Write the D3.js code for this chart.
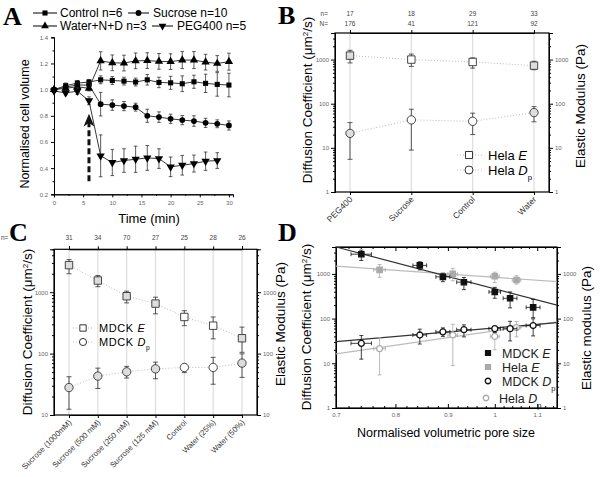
<!DOCTYPE html>
<html>
<head>
<meta charset="utf-8">
<script src="https://d3js.org/d3.v7.min.js"></script>
<style>
body{margin:0;background:#fff}
svg{display:block;font-family:Arial,"Liberation Sans",sans-serif}
.tk text{font-size:6px;fill:#666}
.tk path,.tk line{stroke:#000}
</style>
</head>
<body>
<svg id="fig" width="600" height="477"></svg>
<script>
// --- A: volumen celular normalizado
const tiempo = [0,2,4,6,8,10,12,14,16,18,20,22,24,26,28,30]
const controlV = [1.0,1.03,1.05,1.058,1.075,1.07,1.065,1.058,1.075,1.055,1.052,1.045,1.06,1.048,1.04,1.035]
const controlErr = [0.01,0.02,0.02,0.02,0.03,0.03,0.03,0.03,0.04,0.04,0.05,0.06,0.05,0.07,0.09,0.09]
const sucrosaV = [1.0,1.02,1.035,1.035,0.889,0.882,0.874,0.866,0.80,0.79,0.777,0.767,0.76,0.746,0.739,0.726]
const sucrosaErr = [0.01,0.015,0.02,0.02,0.09,0.04,0.035,0.03,0.05,0.04,0.035,0.035,0.04,0.035,0.03,0.035]
const aguaV = [1.0,1.01,1.022,1.01,1.22,1.205,1.203,1.22,1.222,1.216,1.214,1.226,1.226,1.21,1.2,1.214]
const aguaErr = [0.01,0.015,0.02,0.02,0.07,0.06,0.06,0.06,0.06,0.06,0.06,0.065,0.065,0.06,0.06,0.065]
const pegV = [0.99,0.975,0.988,0.915,0.494,0.443,0.458,0.468,0.478,0.473,0.41,0.422,0.435,0.453,0.458]
const pegErr = [0.01,0.015,0.025,0.03,0.16,0.10,0.09,0.10,0.095,0.075,0.075,0.075,0.065,0.07,0.06]
const ticksA_x = [0,5,10,15,20,25,30]
const ticksA_y = [0.2,0.4,0.6,0.8,1.0,1.2,1.4]

// --- B: Hela
const catsB = ["PEG400","Sucrose","Control","Water"]
const nB = [17,18,29,33]
const NB = [176,41,121,92]
const helaE = [1230,1000,883,730]
const helaE_lo = [840,700,640,590]
const helaE_hi = [1620,1330,1090,915]
const helaD = [21.3,43,40,63]
const helaD_lo = [5.5,8.9,20,39]
const helaD_hi = [37.4,75,61,86]

// --- C: MDCK
const catsC = ["Sucrose (1000mM)","Sucrose (500 mM)","Sucrose (250 mM)","Sucrose (125 mM)","Control","Water (25%)","Water (50%)"]
const nC = [31,34,70,27,25,28,26]
const mdckE = [2760,1550,860,653,395,285,178]
const mdckE_lo = [2000,1230,670,445,285,174,105]
const mdckE_hi = [3400,1870,1040,830,500,395,270]
const mdckD = [28,43,50.5,56.5,59.5,59.5,70]
const mdckD_lo = [12.4,27,40,39,49,31.7,41]
const mdckD_hi = [42,58,62,72.5,67,87,99]

// --- D: frente al tamaño de poro
const poroMdck = [0.741,0.845,0.89,0.933,1.0,1.035,1.09]
const poroMdckErr = [0.017,0.013,0.014,0.015,0.013,0.016,0.017]
const poroHela = [0.772,0.91,1.0,1.05]
const poroHelaErr = [0.01,0.01,0.01,0.01]
const ajusteMdckE = [[0.7,4000],[1.15,200]]
const ajusteHelaE = [[0.7,1490],[1.15,670]]
const ajusteMdckD = [[0.7,30.7],[1.15,81]]
const ajusteHelaD = [[0.7,16.3],[1.15,85]]
const ticksD_x = [0.7,0.8,0.9,1,1.1]
const ticksLog = [1,10,100,1000]

const svg = d3.select("#fig")
const gris = "#aaa"

function menores(a, b){
	let r = []
	for(let dec = 1; dec < 10000; dec *= 10)
		for(let m = 2; m < 10; m++)
			if(m*dec > a && m*dec < b) r.push(m*dec)
	return r
}

function texto(g, x, y, partes, size, opts){
	opts = opts || {}
	let t = g.append("text").attr("x", x).attr("y", y).attr("font-size", size)
	if(opts.rot) t.attr("transform", "rotate(" + opts.rot + "," + x + "," + y + ")")
	if(opts.anchor) t.attr("text-anchor", opts.anchor)
	if(opts.ls) t.attr("letter-spacing", opts.ls)
	partes.forEach(p => {
		let s = t.append("tspan").text(p[0])
		if(p[1] == "i") s.attr("font-style", "italic")
		if(p[1] == "sub") s.attr("font-size", size*0.6).attr("baseline-shift", "sub")
		if(p[1] == "sup") s.attr("font-size", size*0.6).attr("baseline-shift", "super")
	})
	return t
}

function simbolo(tipo, size){
	return d3.symbol().type(tipo).size(size)()
}

function ejeY(g, y, x0, lado, dom){
	let ax = lado == "left" ? d3.axisLeft(y) : d3.axisRight(y)
	g.append("g").attr("class","tk").attr("transform","translate(" + x0 + ",0)")
		.call(ax.tickValues(ticksLog.filter(v => v >= dom[0] && v <= dom[1])).tickFormat(d3.format("d")).tickSize(4).tickPadding(2))
	let ax2 = lado == "left" ? d3.axisLeft(y) : d3.axisRight(y)
	g.append("g").attr("class","tk").attr("transform","translate(" + x0 + ",0)")
		.call(ax2.tickValues(menores(dom[0], dom[1])).tickFormat("").tickSize(2))
}

function barraV(g, x, lo, hi, color, w){
	g.append("line").attr("x1",x).attr("x2",x).attr("y1",lo).attr("y2",hi).attr("stroke",color).attr("stroke-width",0.8)
	g.append("line").attr("x1",x-w).attr("x2",x+w).attr("y1",lo).attr("y2",lo).attr("stroke",color).attr("stroke-width",0.8)
	g.append("line").attr("x1",x-w).attr("x2",x+w).attr("y1",hi).attr("y2",hi).attr("stroke",color).attr("stroke-width",0.8)
}

function marco(g, x0, x1, y0, y1){
	g.append("rect").attr("x",x0).attr("y",y0).attr("width",x1-x0).attr("height",y1-y0)
		.attr("fill","none").attr("stroke","#000").attr("stroke-width",1.2)
}

// ================= A =================
{
	const g = svg.append("g")
	const x = d3.scaleLinear().domain([0, 30.7]).range([54, 233])
	const y = d3.scaleLinear().domain([0.2, 1.4]).range([194.3, 37.3])

	g.append("g").attr("class","tk").attr("transform","translate(0,194.3)")
		.call(d3.axisBottom(x).tickValues(ticksA_x).tickSize(3).tickPadding(3))
	g.append("g").attr("class","tk").attr("transform","translate(0,194.3)")
		.call(d3.axisBottom(x).tickValues(d3.range(2.5, 30, 5)).tickFormat("").tickSize(1.5))
	g.append("g").attr("class","tk").attr("transform","translate(54,0)")
		.call(d3.axisLeft(y).tickValues(ticksA_y).tickFormat(d3.format(".1f")).tickSize(3).tickPadding(3))
	g.append("g").attr("class","tk").attr("transform","translate(54,0)")
		.call(d3.axisLeft(y).tickValues(d3.range(0.3, 1.4, 0.2)).tickFormat("").tickSize(1.5))

	const series = [
		{v: controlV, e: controlErr, s: d3.symbolSquare, sz: 26, rot: 0},
		{v: sucrosaV, e: sucrosaErr, s: d3.symbolCircle, sz: 26, rot: 0},
		{v: aguaV, e: aguaErr, s: d3.symbolTriangle, sz: 30, rot: 0},
		{v: pegV, e: pegErr, s: d3.symbolTriangle, sz: 30, rot: 180}
	]
	series.forEach(se => {
		const pts = se.v.map((v, i) => [tiempo[i], v])
		g.append("path").attr("d", d3.line().x(d => x(d[0])).y(d => y(d[1]))(pts))
			.attr("fill","none").attr("stroke","#222").attr("stroke-width",0.9)
		pts.forEach((p, i) => barraV(g, x(p[0]), y(p[1]-se.e[i]), y(p[1]+se.e[i]), "#333", 1.8))
		g.selectAll(null).data(pts).enter().append("path")
			.attr("d", simbolo(se.s, se.sz))
			.attr("transform", d => "translate(" + x(d[0]) + "," + y(d[1]) + ") rotate(" + se.rot + ")")
			.attr("fill","#000")
	})

	// flecha discontinua
	const xf = x(6)
	g.append("line").attr("x1",xf).attr("x2",xf).attr("y1",y(0.3)).attr("y2",y(0.76))
		.attr("stroke","#111").attr("stroke-width",3).attr("stroke-dasharray","6,3")
	g.append("path").attr("d","M" + xf + "," + y(0.815) + " L" + (xf-5.5) + "," + (y(0.815)+13) + " L" + xf + "," + (y(0.815)+9) + " L" + (xf+5.5) + "," + (y(0.815)+13) + "Z")
		.attr("fill","#111")

	texto(g, 29, 124, [["Normalised cell volume"]], 12.5, {rot: -90, anchor: "middle"})
	texto(g, 149, 223, [["Time (min)"]], 13, {anchor: "middle"})

	// leyenda
	const ley = [
		{x0: 33, x1: 57, tx: 60, y: 13, s: d3.symbolSquare, rot: 0, t: "Control n=6"},
		{x0: 128, x1: 149, tx: 153, y: 13, s: d3.symbolCircle, rot: 0, t: "Sucrose n=10"},
		{x0: 33, x1: 57, tx: 60, y: 26, s: d3.symbolTriangle, rot: 0, t: "Water+N+D n=3"},
		{x0: 152, x1: 173, tx: 177, y: 26, s: d3.symbolTriangle, rot: 180, t: "PEG400 n=5"}
	]
	ley.forEach(l => {
		g.append("line").attr("x1",l.x0).attr("x2",l.x1).attr("y1",l.y).attr("y2",l.y).attr("stroke","#000").attr("stroke-width",1)
		g.append("path").attr("d", simbolo(l.s, 26)).attr("transform","translate(" + (l.x0+l.x1)/2 + "," + l.y + ") rotate(" + l.rot + ")")
		texto(g, l.tx, l.y + 4.3, [[l.t]], 12)
	})
	texto(g, 3, 25, [["A"]], 26).attr("font-family","'Liberation Serif',serif").attr("font-weight","bold")
}

// ================= B =================
{
	const g = svg.append("g")
	const x = d3.scalePoint().domain(catsB).range([350, 534])
	const y = d3.scaleLog().domain([1, 4000]).range([192, 33])

	catsB.forEach(c => g.append("line").attr("x1",x(c)).attr("x2",x(c)).attr("y1",33).attr("y2",192).attr("stroke","#ddd").attr("stroke-width",1.2))

	ejeY(g, y, 335, "left", [1, 4000])
	ejeY(g, y, 549, "right", [1, 4000])
	g.append("g").attr("class","tk").attr("transform","translate(0,192)").call(d3.axisBottom(x).tickSize(3).tickFormat(""))
	g.append("g").attr("class","tk").attr("transform","translate(0,33)").call(d3.axisTop(x).tickSize(3).tickFormat(""))
	marco(g, 335, 549, 33, 192)

	catsB.forEach(c => texto(g, x(c)+3, 200, [[c]], 8.5, {rot: -45, anchor: "end"}).attr("fill","#333"))
	texto(g, 328, 16, [["n="]], 6.5, {anchor: "end"}).attr("fill","#444")
	texto(g, 328, 26, [["N="]], 6.5, {anchor: "end"}).attr("fill","#444")
	catsB.forEach((c, i) => {
		texto(g, x(c), 16, [[String(nB[i])]], 6.5, {anchor: "middle"}).attr("fill","#444")
		texto(g, x(c), 26, [[String(NB[i])]], 6.5, {anchor: "middle"}).attr("fill","#444")
	})

	const ser = [
		{v: helaE, lo: helaE_lo, hi: helaE_hi, s: d3.symbolSquare},
		{v: helaD, lo: helaD_lo, hi: helaD_hi, s: d3.symbolCircle}
	]
	ser.forEach(se => {
		g.append("path").attr("d", d3.line().x((d,i) => x(catsB[i])).y(d => y(d))(se.v))
			.attr("fill","none").attr("stroke","#bbb").attr("stroke-dasharray","1,2").attr("stroke-width",1)
		se.v.forEach((v, i) => barraV(g, x(catsB[i]), y(se.lo[i]), y(se.hi[i]), "#333", 2.5))
		se.v.forEach((v, i) => g.append("path").attr("d", simbolo(se.s, 55))
			.attr("transform","translate(" + x(catsB[i]) + "," + y(v) + ")")
			.attr("fill", (i == 0 || i == 3) ? "#ddd" : "#fff").attr("stroke","#333").attr("stroke-width",0.9))
	})

	// leyenda
	;[[155, d3.symbolSquare, [["Hela "],["E","i"]]], [170, d3.symbolCircle, [["Hela "],["D","i"],["p","sub"]]]].forEach(l => {
		g.append("line").attr("x1",457).attr("x2",482).attr("y1",l[0]).attr("y2",l[0]).attr("stroke","#bbb").attr("stroke-dasharray","1,2")
		g.append("path").attr("d", simbolo(l[1], 50)).attr("transform","translate(469," + l[0] + ")").attr("fill","#fff").attr("stroke","#333")
		texto(g, 488, l[0]+4.5, l[2], 13)
	})

	texto(g, 312, 100, [["Diffusion Coefficient ("],["\u03bcm"],["2","sup"],["/s)"]], 13.5, {rot: -90, anchor: "middle"})
	texto(g, 585, 106, [["Elastic Modulus (Pa)"]], 13.5, {rot: -90, anchor: "middle"})
	texto(g, 278, 24, [["B"]], 26).attr("font-family","'Liberation Serif',serif").attr("font-weight","bold")
}

// ================= C =================
{
	const g = svg.append("g")
	const x = d3.scalePoint().domain(catsC).range([69, 242])
	const y = d3.scaleLog().domain([10, 5000]).range([415, 249.3])

	catsC.forEach(c => g.append("line").attr("x1",x(c)).attr("x2",x(c)).attr("y1",249.3).attr("y2",415).attr("stroke","#ddd").attr("stroke-width",1.2))

	ejeY(g, y, 54, "left", [10, 5000])
	ejeY(g, y, 257, "right", [10, 5000])
	g.append("g").attr("class","tk").attr("transform","translate(0,415)").call(d3.axisBottom(x).tickSize(3).tickFormat(""))
	g.append("g").attr("class","tk").attr("transform","translate(0,249.3)").call(d3.axisTop(x).tickSize(3).tickFormat(""))
	marco(g, 54, 257, 249.3, 415)

	catsC.forEach(c => texto(g, x(c)+3, 423, [[c]], 7.8, {rot: -45, anchor: "end"}).attr("fill","#333"))
	texto(g, 1, 240, [["n="]], 6.5).attr("fill","#444")
	catsC.forEach((c, i) => texto(g, x(c), 240, [[String(nC[i])]], 6.5, {anchor: "middle"}).attr("fill","#444"))

	const ser = [
		{v: mdckE, lo: mdckE_lo, hi: mdckE_hi, s: d3.symbolSquare},
		{v: mdckD, lo: mdckD_lo, hi: mdckD_hi, s: d3.symbolCircle}
	]
	ser.forEach(se => {
		g.append("path").attr("d", d3.line().x((d,i) => x(catsC[i])).y(d => y(d))(se.v))
			.attr("fill","none").attr("stroke","#bbb").attr("stroke-dasharray","1,2").attr("stroke-width",1)
		se.v.forEach((v, i) => barraV(g, x(catsC[i]), y(se.lo[i]), y(se.hi[i]), "#333", 2.5))
		se.v.forEach((v, i) => g.append("path").attr("d", simbolo(se.s, 55))
			.attr("transform","translate(" + x(catsC[i]) + "," + y(v) + ")")
			.attr("fill", (i == 4 || i == 5) ? "#fff" : "#ddd").attr("stroke","#333").attr("stroke-width",0.9))
	})

	;[[328, d3.symbolSquare, [["MDCK "],["E","i"]]], [342, d3.symbolCircle, [["MDCK "],["D","i"],["p","sub"]]]].forEach(l => {
		g.append("line").attr("x1",73).attr("x2",93).attr("y1",l[0]).attr("y2",l[0]).attr("stroke","#bbb").attr("stroke-dasharray","1,2")
		g.append("path").attr("d", simbolo(l[1], 40)).attr("transform","translate(83," + l[0] + ")").attr("fill","#fff").attr("stroke","#333")
		texto(g, 99, l[0]+4, l[2], 11, {ls: 0.6})
	})

	texto(g, 32, 332, [["Diffusion Coefficient ("],["\u03bcm"],["2","sup"],["/s)"]], 13.5, {rot: -90, anchor: "middle"})
	texto(g, 285, 324, [["Elastic Modulus (Pa)"]], 13.5, {rot: -90, anchor: "middle"})
	texto(g, 9, 241, [["C"]], 26).attr("font-family","'Liberation Serif',serif").attr("font-weight","bold")
}

// ================= D =================
{
	const g = svg.append("g")
	const x = d3.scaleLog().domain([0.7, 1.15]).range([336, 557])
	const y = d3.scaleLog().domain([1, 4000]).range([408, 247])

	ejeY(g, y, 336, "left", [1, 4000])
	ejeY(g, y, 557, "right", [1, 4000])
	const menX = d3.range(0.72, 1.15, 0.02).filter(v => Math.abs(v*10 - Math.round(v*10)) > 0.01)
	g.append("g").attr("class","tk").attr("transform","translate(0,408)")
		.call(d3.axisBottom(x).tickValues(ticksD_x).tickFormat(d3.format("")).tickSize(-4).tickPadding(5))
	g.append("g").attr("class","tk").attr("transform","translate(0,408)")
		.call(d3.axisBottom(x).tickValues(menX).tickFormat("").tickSize(-2))
	g.append("g").attr("class","tk").attr("transform","translate(0,247)")
		.call(d3.axisTop(x).tickValues(ticksD_x).tickFormat("").tickSize(-4))
	g.append("g").attr("class","tk").attr("transform","translate(0,247)")
		.call(d3.axisTop(x).tickValues(menX).tickFormat("").tickSize(-2))
	marco(g, 336, 557, 247, 408)

	g.append("clipPath").attr("id","clipD").append("rect").attr("x",336).attr("y",247).attr("width",221).attr("height",161)
	const lin = d3.line().x(d => x(d[0])).y(d => y(d[1]))
	g.append("path").attr("d", lin(ajusteHelaE)).attr("stroke","#bbb").attr("stroke-width",1.2).attr("fill","none").attr("clip-path","url(#clipD)")
	g.append("path").attr("d", lin(ajusteHelaD)).attr("stroke","#bbb").attr("stroke-width",1.2).attr("fill","none").attr("clip-path","url(#clipD)")
	g.append("path").attr("d", lin(ajusteMdckE)).attr("stroke","#333").attr("stroke-width",1.2).attr("fill","none").attr("clip-path","url(#clipD)")
	g.append("path").attr("d", lin(ajusteMdckD)).attr("stroke","#333").attr("stroke-width",1.2).attr("fill","none").attr("clip-path","url(#clipD)")

	function barraH(xc, err, yc, color){
		const a = x(xc-err), b = x(xc+err)
		g.append("line").attr("x1",a).attr("x2",b).attr("y1",yc).attr("y2",yc).attr("stroke",color).attr("stroke-width",0.8)
		g.append("line").attr("x1",a).attr("x2",a).attr("y1",yc-2).attr("y2",yc+2).attr("stroke",color).attr("stroke-width",0.8)
		g.append("line").attr("x1",b).attr("x2",b).attr("y1",yc-2).attr("y2",yc+2).attr("stroke",color).attr("stroke-width",0.8)
	}

	const ser = [
		{px: poroHela, pe: poroHelaErr, v: helaE, lo: helaE_lo, hi: helaE_hi, s: d3.symbolSquare, c: gris, fill: gris},
		{px: poroHela, pe: poroHelaErr, v: helaD, lo: helaD_lo, hi: helaD_hi, s: d3.symbolCircle, c: gris, fill: "#fff"},
		{px: poroMdck, pe: poroMdckErr, v: mdckE, lo: mdckE_lo, hi: mdckE_hi, s: d3.symbolSquare, c: "#111", fill: "#111"},
		{px: poroMdck, pe: poroMdckErr, v: mdckD, lo: mdckD_lo, hi: mdckD_hi, s: d3.symbolCircle, c: "#111", fill: "#fff"}
	]
	ser.forEach(se => {
		se.v.forEach((v, i) => {
			barraV(g, x(se.px[i]), y(se.lo[i]), y(se.hi[i]), se.c, 2)
			barraH(se.px[i], se.pe[i], y(v), se.c)
		})
		se.v.forEach((v, i) => g.append("path").attr("d", simbolo(se.s, 28))
			.attr("transform","translate(" + x(se.px[i]) + "," + y(v) + ")")
			.attr("fill", se.fill).attr("stroke", se.c).attr("stroke-width",1.3))
	})

	const ley = [
		[353, d3.symbolSquare, "#111", "#111", [["MDCK "],["E","i"]]],
		[367, d3.symbolSquare, gris, gris, [["Hela "],["E","i"]]],
		[381, d3.symbolCircle, "#111", "#fff", [["MDCK "],["D","i"],["p","sub"]]],
		[398, d3.symbolCircle, gris, "#fff", [["Hela "],["D","i"],["p","sub"]]]
	]
	ley.forEach((l, i) => {
		g.append("path").attr("d", simbolo(l[1], 24)).attr("transform","translate(" + (i == 3 ? 486 : 488) + "," + l[0] + ")")
			.attr("fill", l[3]).attr("stroke", l[2]).attr("stroke-width",1.3)
		texto(g, i == 3 ? 499 : 502, l[0]+4.5, l[4], 12.5).attr("fill","#222")
	})

	texto(g, 311, 327, [["Diffusion Coefficient ("],["\u03bcm"],["2","sup"],["/s)"]], 13.5, {rot: -90, anchor: "middle"})
	texto(g, 591, 328, [["Elastic modulus (Pa)"]], 13.5, {rot: -90, anchor: "middle"})
	texto(g, 446, 437, [["Normalised volumetric pore size"]], 12.5, {anchor: "middle"})
	texto(g, 278, 241, [["D"]], 26).attr("font-family","'Liberation Serif',serif").attr("font-weight","bold")
}
</script>
</body>
</html>
